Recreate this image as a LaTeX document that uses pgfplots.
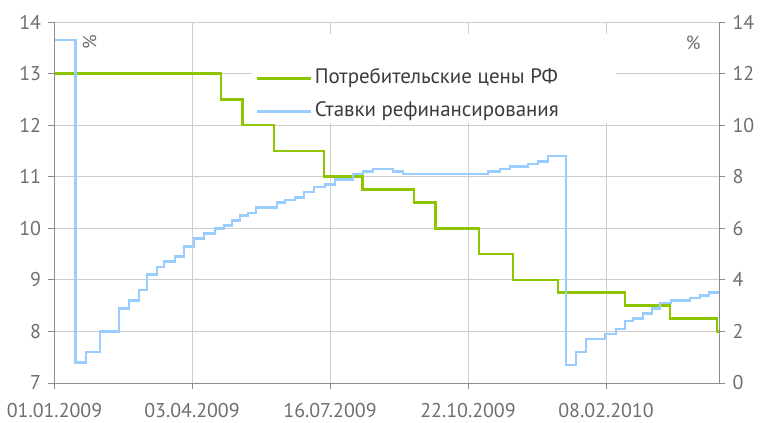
\documentclass[border=0pt]{standalone}
\usepackage{fontspec}
\setmainfont{PT Sans}
\usepackage{pgfplots}
\pgfplotsset{compat=1.18}
\definecolor{cgreen}{RGB}{142,196,0}
\definecolor{cblue}{RGB}{153,204,255}
\definecolor{ctick}{RGB}{110,110,110}
\definecolor{caxis}{RGB}{140,140,140}
\definecolor{cgrid}{RGB}{205,205,205}
\definecolor{ctext}{RGB}{60,60,60}
\pgfplotsset{
  common/.style={
    scale only axis, width=664.5bp, height=361bp,
    xmin=54.5, xmax=719,
    /pgf/number format/assume math mode=true,
    tick label style={font=\fontsize{20}{24}\selectfont, text=ctick},
    tick align=outside, major tick length=6bp,
    every tick/.style={caxis, line width=0.8bp},
    axis line style={caxis, line width=0.8bp},
  }
}
\begin{document}
\begin{tikzpicture}
\begin{axis}[common, name=ax,
  axis x line*=bottom, axis y line*=left,
  ymin=7, ymax=14, ytick={7,8,...,14},
  xtick={54.5,192,330,468,606},
  xticklabels={01.01.2009,03.04.2009,16.07.2009,22.10.2009,08.02.2010},
  xticklabel style={yshift=-11bp},
  yticklabel style={xshift=-4bp},
  grid=major, grid style={cgrid, line width=0.8bp},
]
\fill[white] (axis cs:252,13.76) rectangle (axis cs:616,12.04);
\addplot[cgreen, line width=2.6bp, const plot] coordinates {
(54.5,13) (221,12.5) (242.3,12) (274,11.5) (324,11) (362.7,10.75) (414,10.5)
(435.7,10) (479,9.5) (513,9) (558,8.75) (625,8.5) (670,8.25) (717,8) (719,8)};
\node[rotate=90, text=ctick, font=\fontsize{19}{22}\selectfont] at (rel axis cs:0.053,0.945) {\%};
\node[text=ctick, font=\fontsize{19}{22}\selectfont] at (rel axis cs:0.961,0.942) {\%};
\end{axis}
\begin{axis}[common,
  axis x line=none, axis y line*=right,
  ymin=0, ymax=14, ytick={0,2,...,14},
  yticklabel style={xshift=4bp},
  legend style={at={(rel axis cs:0.3032,0.7978)}, anchor=west, draw=none, fill=none,
    inner xsep=0pt, inner ysep=0pt, row sep=11bp,
    font=\fontsize{21}{25}\selectfont, text=ctext,
    nodes={inner sep=2bp, text height=14bp, text depth=4bp}},
  legend cell align=left,
  legend image code/.code={\draw[#1] (0bp,0bp) -- (54bp,0bp);},
]
\addlegendimage{cgreen, line width=2.6bp}
\addlegendentry{Потребительские цены РФ}
\addplot[cblue, line width=2.6bp, const plot] coordinates {
(54.5,13.3) (75.7,0.8) (86,1.2) (100,2.0) (119,2.9) (129,3.2) (139,3.6) (147,4.2)
(157,4.5) (164,4.7) (175,4.9) (184,5.3) (194,5.6) (204,5.8) (215,6.0) (224,6.1)
(232,6.3) (240,6.5) (248,6.6) (256,6.8) (277,7.0) (285,7.1) (295,7.2) (304,7.4)
(314,7.6) (325,7.7) (335,7.9) (353,8.1) (363,8.2) (373,8.3) (393,8.2) (403,8.1)
(488,8.2) (500,8.3) (510,8.4) (528,8.5) (538,8.6) (548,8.8) (566,0.7) (576,1.2)
(586,1.7) (605,1.9) (616,2.1) (625,2.4) (633,2.5) (643,2.7) (652,2.9) (660,3.1)
(671,3.2) (690,3.3) (700,3.4) (709,3.5) (719,3.5)};
\addlegendentry{Ставки рефинансирования}
\end{axis}
\pgfresetboundingbox
\path[use as bounding box] ([shift={(-54.5bp,-40bp)}]ax.south west) rectangle ([shift={(53bp,22bp)}]ax.north east);
\end{tikzpicture}
\end{document}
